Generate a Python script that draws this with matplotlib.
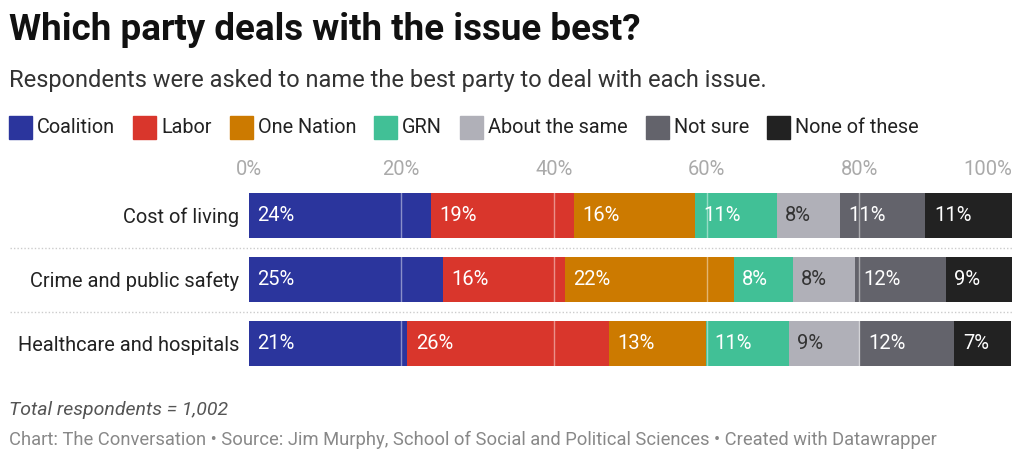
import matplotlib.pyplot as plt
from matplotlib.patches import Rectangle

plt.rcParams['font.family'] = ['Roboto', 'DejaVu Sans']

# Data
issues = ['Cost of living', 'Crime and public safety', 'Healthcare and hospitals']
parties = ['Coalition', 'Labor', 'One Nation', 'GRN', 'About the same', 'Not sure', 'None of these']
coalition = [23.9, 25.4, 20.8]
labor = [18.7, 16.0, 26.4]
one_nation = [15.9, 22.2, 12.7]
grn = [10.7, 7.7, 10.9]
about_same = [8.3, 8.2, 9.3]
not_sure = [11.2, 11.9, 12.4]
none_of_these = [11.3, 8.6, 7.4]
ticks = [0, 20, 40, 60, 80, 100]

series = [coalition, labor, one_nation, grn, about_same, not_sure, none_of_these]
colors = ['#2b359d', '#d9362c', '#cc7a00', '#41c096', '#b0b0b8', '#63636b', '#222222']
text_colors = ['white', 'white', 'white', 'white', '#333333', 'white', 'white']

W, H = 1024, 462
fig = plt.figure(figsize=(W / 100, H / 100), dpi=100)


def fx(x):
    return x / W


def fy(y):
    return 1 - y / H


ax = fig.add_axes([fx(248.7), fy(375.5), fx(1011.7) - fx(248.7), 192 / H])
ypos = list(range(len(issues)))
left = [0] * len(issues)
for vals, col, tcol in zip(series, colors, text_colors):
    ax.barh(ypos, vals, left=left, height=0.70, color=col, zorder=1)
    for y, v, l in zip(ypos, vals, left):
        ax.annotate(f'{v:.0f}%', (l, y), xytext=(6, 0), textcoords='offset points',
                    ha='left', va='center', fontsize=14.5, color=tcol, zorder=3)
    left = [a + b for a, b in zip(left, vals)]

ax.set_xlim(0, 100)
ax.set_ylim(2.5, -0.5)
for t in ticks[1:-1]:
    ax.axvline(t, color='white', alpha=0.45, lw=1, zorder=2)

# dotted separators between rows
for y in [0.5, 1.5]:
    ax.plot([-0.313, 1.0], [y, y], transform=ax.get_yaxis_transform(), color='#cccccc',
            lw=1, ls=(0, (1, 1.5)), clip_on=False)

ax.xaxis.tick_top()
ax.set_xticks(ticks)
ax.set_xticklabels([f'{t}%' for t in ticks], fontsize=14.5, color='#aaaaaa')
ax.get_xticklabels()[-1].set_ha('right')
ax.tick_params(axis='x', length=0, pad=3)
ax.set_yticks(ypos)
ax.set_yticklabels(issues, fontsize=14.4, color='#222222')
ax.tick_params(axis='y', length=0, pad=7)
for s in ax.spines.values():
    s.set_visible(False)

# title, subtitle
fig.text(fx(9), fy(30), 'Which party deals with the issue best?', fontsize=26.5,
         fontweight='bold', color='#111111', va='center', ha='left')
fig.text(fx(9), fy(80), 'Respondents were asked to name the best party to deal with each issue.',
         fontsize=17, color='#333333', va='center', ha='left')

# legend
renderer = fig.canvas.get_renderer()
x = 9
for name, col in zip(parties, colors):
    fig.patches.append(Rectangle((fx(x), fy(139)), 23 / W, 23 / H, color=col,
                                 transform=fig.transFigure, figure=fig))
    t = fig.text(fx(x + 28), fy(127.5), name, fontsize=14.3, color='#222222', va='center', ha='left')
    bb = t.get_window_extent(renderer)
    x = x + 28 + bb.width + 18

# footer
fig.text(fx(9), fy(410), 'Total respondents = 1,002', fontsize=14, style='italic',
         color='#555555', va='center', ha='left')
fig.text(fx(9), fy(440), 'Chart: The Conversation • Source: Jim Murphy, School of Social and Political Sciences • Created with Datawrapper',
         fontsize=13.2, color='#888888', va='center', ha='left')

fig.savefig('out.png', dpi=100)
